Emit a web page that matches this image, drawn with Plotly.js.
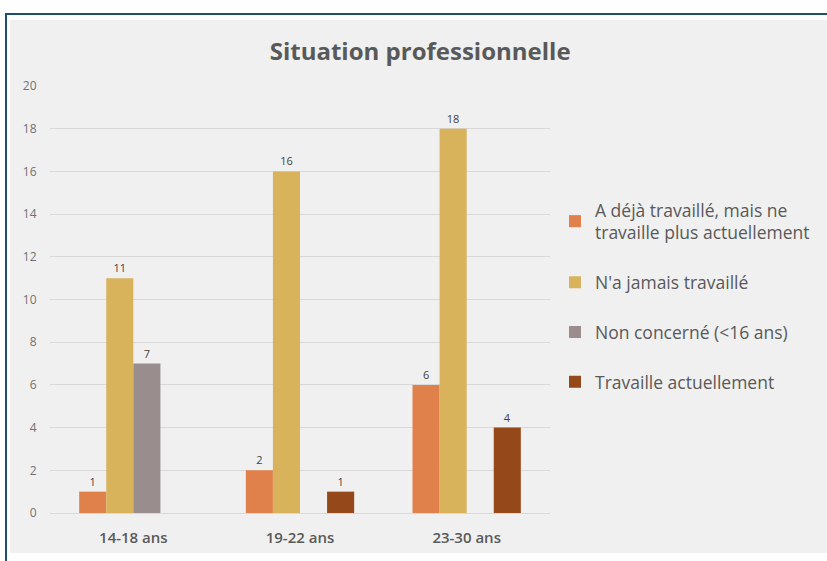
<!DOCTYPE html>
<html><head><meta charset="utf-8">
<script src="https://cdn.plot.ly/plotly-3.0.1.min.js"></script>
<style>
html,body{margin:0;padding:0;background:#fff;width:827px;height:561px;overflow:hidden;}
#frame{position:absolute;left:5px;top:13px;width:840px;height:560px;border:2px solid #1d4e6b;background:#fff;box-sizing:border-box;}
#chart{position:absolute;left:10px;top:20px;width:817px;height:533px;}
</style></head>
<body>
<div id="frame"></div>
<div id="chart"></div>
<script>
const categories = ["14-18 ans", "19-22 ans", "23-30 ans"];
const seriesNames = ["A déjà travaillé, mais ne<br>travaille plus actuellement", "N'a jamais travaillé", "Non concerné (<16 ans)", "Travaille actuellement"];
const dejaTravaille = [1, 2, 6];
const jamaisTravaille = [11, 16, 18];
const nonConcerne = [7, null, null];
const travailleActuellement = [null, 1, 4];
const colors = ["#E0804A", "#D9B25C", "#9A8D8D", "#95491B"];

const values = [dejaTravaille, jamaisTravaille, nonConcerne, travailleActuellement];
const traces = values.map((v, i) => ({
  type: 'bar', x: categories, y: v, name: seriesNames[i],
  marker: {color: colors[i]},
  text: v.map(d => d === null ? '' : String(d)),
  textposition: 'outside', cliponaxis: false,
  textfont: {size: 11, color: '#404040', family: 'Open Sans'},
  legendgroup: 'g' + i, hoverinfo: 'x+y'
}));

const layout = {
  width: 817, height: 533,
  paper_bgcolor: '#F0F0F0', plot_bgcolor: '#F0F0F0',
  margin: {l: 40, r: 277, t: 66, b: 40},
  title: {text: 'Situation professionnelle', x: 0.502, xref: 'container', y: 0.94, yanchor: 'middle',
          font: {family: 'Open Sans', size: 24, color: '#595959', weight: 700}},
  barmode: 'group', bargap: 0.35, bargroupgap: 0,
  xaxis: {showgrid: false, showline: true, linecolor: '#D9D9D9', linewidth: 1,
          ticks: 'outside', ticklen: 11, tickcolor: 'rgba(0,0,0,0)',
          tickfont: {family: 'Open Sans', size: 15, color: '#595959', weight: 600}},
  yaxis: {range: [0, 20], dtick: 2, showgrid: true, gridcolor: '#D9D9D9', gridwidth: 1,
          zeroline: false, ticks: 'outside', ticklen: 10, tickcolor: 'rgba(0,0,0,0)',
          tickfont: {family: 'Open Sans', size: 12, color: '#707070'}},
  showlegend: true,
  legend: {x: 1.01, xanchor: 'left', y: 0.752, yanchor: 'top', bgcolor: 'rgba(0,0,0,0)',
           font: {family: 'Open Sans', size: 17.5, color: '#595959'}, tracegroupgap: 24,
           traceorder: 'grouped'}
};
Plotly.newPlot('chart', traces, layout, {displayModeBar: false, staticPlot: true});
</script>
</body></html>
